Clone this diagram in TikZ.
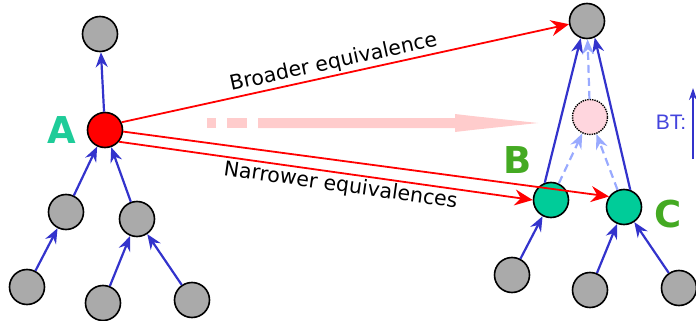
\documentclass[tikz,border=0pt]{standalone}
\usepackage{fontspec}
\setmainfont{DejaVu Sans}
\newfontfamily\btfont{Liberation Sans}
\usetikzlibrary{arrows.meta}

\definecolor{nodegray}{HTML}{AAAAAA}
\definecolor{mint}{HTML}{00CC99}
\definecolor{tealA}{HTML}{1ECC99}
\definecolor{leafgreen}{HTML}{44AA22}
\definecolor{btblue}{HTML}{3333CC}
\definecolor{btlabel}{HTML}{4444DD}
\definecolor{paleblue}{HTML}{99AAFF}
\definecolor{blush}{HTML}{FFD6DE}
\definecolor{pinkarrow}{HTML}{FFCCCC}

\tikzset{
  concept/.style={circle,draw=black,line width=1.6pt,fill=nodegray,minimum size=35pt,inner sep=0pt},
  bt/.style={btblue,line width=2.2pt,-{Stealth[length=15pt,width=12pt,inset=5pt]}},
  btinferred/.style={paleblue,line width=2.2pt,dash pattern=on 8pt off 5pt,-{Stealth[length=15pt,width=12pt,inset=5pt]}},
  equiv/.style={red,line width=1.8pt,-{Stealth[length=18pt,width=16pt,inset=6pt]}},
  bigletter/.style={font=\bfseries\fontsize{37}{37}\selectfont},
  eqlabel/.style={text=black,font=\fontsize{20.5}{20.5}\selectfont,sloped,inner sep=2pt}
}

\begin{document}
\begin{tikzpicture}[x=1pt,y=-1pt]
\useasboundingbox (0,0) rectangle (696,321);

% pale arrow from the source towards the inferred concept
\fill[pinkarrow] (207,118) rectangle (216,128);
\fill[pinkarrow] (227,118) rectangle (247,128);
\fill[pinkarrow] (258,118) -- (455,118) -- (455,114) -- (472,116) -- (538,123)
  -- (472,130) -- (455,132) -- (455,128) -- (258,128) -- cycle;

% left hierarchy
\node[concept] (lup) at (100,34) {};
\node[concept,fill=red] (A) at (105,130) {};
\node[concept] (l1) at (66,212) {};
\node[concept] (l2) at (137,219) {};
\node[concept] (l11) at (27,287) {};
\node[concept] (l21) at (103,303) {};
\node[concept] (l22) at (192,300) {};
\node[bigletter,text=tealA] (labA) at (62,130) {A};

\draw[bt] (A) -- (lup);
\draw[bt] (l1) -- (A);
\draw[bt] (l2) -- (A);
\draw[bt] (l11) -- (l1);
\draw[bt] (l21) -- (l2);
\draw[bt] (l22) -- (l2);

% right hierarchy
\node[concept] (rup) at (587,21) {};
\node[concept,fill=blush,line width=1.4pt,densely dotted] (mid) at (590,117) {};
\node[concept,fill=mint] (B) at (551,200) {};
\node[concept,fill=mint] (C) at (624,207) {};
\node[concept] (r11) at (512,275) {};
\node[concept] (r21) at (590,290) {};
\node[concept] (r22) at (679,288) {};
\node[bigletter,text=leafgreen] (labB) at (518,160) {B};
\node[bigletter,text=leafgreen] (labC) at (668,214) {C};

\draw[bt] (B.110) -- (rup.250);
\draw[bt] (C.70) -- (rup.295);
\draw[btinferred] (B) -- (mid);
\draw[btinferred] (C) -- (mid);
\draw[btinferred] (mid) -- (rup);
\draw[bt] (r11) -- (B);
\draw[bt] (r21) -- (C);
\draw[bt] (r22) -- (C);

% equivalence links
\draw[equiv] (A.25) -- node[eqlabel,above,pos=0.48] {Broader equivalence} (rup.190);
\draw[equiv] (A.355) -- (C.145);
\draw[equiv] (A.320) -- node[eqlabel,below,pos=0.54] {Narrower equivalences} (B.180);

% legend
\node[font=\btfont\fontsize{21}{21}\selectfont,text=btlabel] (btkey) at (671,122) {BT:};
\coordinate (btfoot) at (693,159);
\coordinate (bthead) at (693,88);
\draw[btblue,line width=2pt,-{Stealth[length=12pt,width=8pt]}] (btfoot) -- (bthead);
\end{tikzpicture}
\end{document}
